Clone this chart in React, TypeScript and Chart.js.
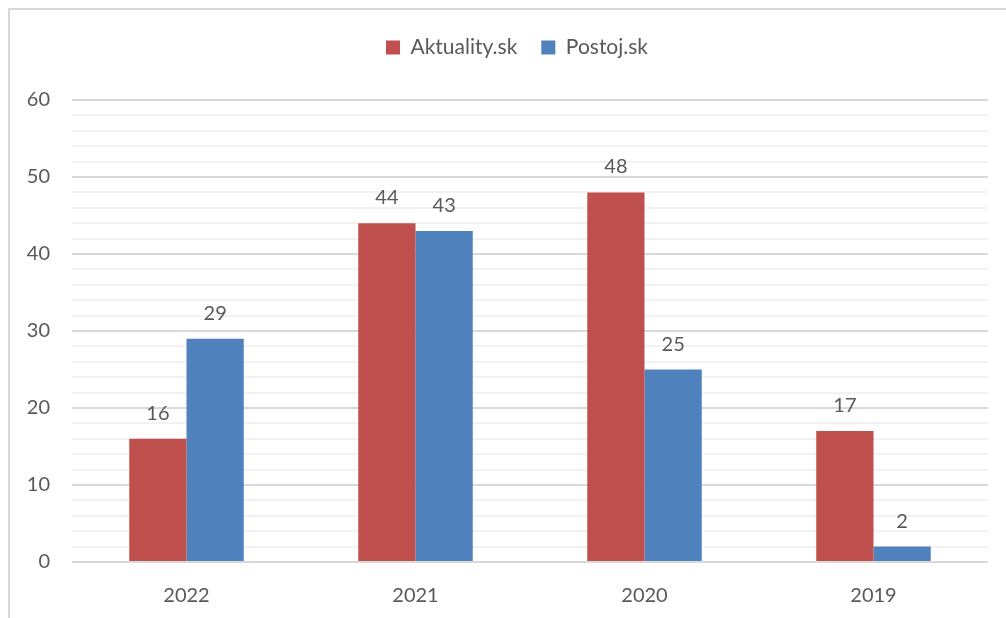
import React, { useEffect, useRef } from "react";
import { Chart, registerables } from "chart.js";

Chart.register(...registerables);

const categories = ["2022", "2021", "2020", "2019"];
const aktuality = [16, 44, 48, 17];
const postoj = [29, 43, 25, 2];
const seriesNames = ["Aktuality.sk", "Postoj.sk"];

const FONT = "Lato, 'Open Sans', sans-serif";
const TEXT = "#595959";
const FS = 20;

const legendHeight = {
  id: "legendHeight",
  beforeInit(chart: any) {
    const orig = chart.legend.fit;
    chart.legend.fit = function () {
      orig.call(this);
      this.height = 87;
    };
  },
  afterLayout(chart: any) {
    chart.legend.left += 18;
    chart.legend.right += 18;
  },
};

const valueLabels = {
  id: "valueLabels",
  afterDatasetsDraw(chart: any) {
    const ctx = chart.ctx;
    ctx.save();
    ctx.font = `${FS}px ${FONT}`;
    ctx.fillStyle = TEXT;
    ctx.textAlign = "center";
    ctx.textBaseline = "alphabetic";
    chart.data.datasets.forEach((ds: any, i: number) => {
      const meta = chart.getDatasetMeta(i);
      meta.data.forEach((bar: any, j: number) => {
        ctx.fillText(String(ds.data[j]), bar.x, bar.y - 19);
      });
    });
    ctx.restore();
  },
};

export default function App() {
  const ref = useRef<HTMLCanvasElement>(null);
  useEffect(() => {
    document.body.style.margin = "0";
    document.body.style.overflow = "hidden";
    const chart = new Chart(ref.current!, {
      type: "bar",
      data: {
        labels: categories,
        datasets: [
          { label: seriesNames[0], data: aktuality, backgroundColor: "#C0504D" },
          { label: seriesNames[1], data: postoj, backgroundColor: "#4F81BD" },
        ],
      },
      options: {
        responsive: false,
        animation: false,
        layout: { padding: { left: 0, right: 18, top: 3, bottom: 0 } },
        datasets: { bar: { categoryPercentage: 0.5, barPercentage: 1 } } as any,
        plugins: {
          legend: {
            position: "top",
            labels: {
              boxWidth: 14,
              boxHeight: 14,
              color: TEXT,
              font: { family: FONT, size: 21 },
              padding: 24,
            },
          },
          tooltip: { enabled: false },
        },
        scales: {
          x: {
            grid: { display: false, drawTicks: false },
            border: { display: false },
            ticks: { color: TEXT, font: { family: FONT, size: FS }, padding: 22 },
            afterFit(scale: any) {
              scale.height = 56;
            },
          },
          y: {
            min: 0,
            max: 60,
            border: { display: false },
            grid: {
              drawTicks: false,
              lineWidth: 2,
              color: (c: any) => (c.tick && c.tick.value % 10 === 0 ? "#d9d9d9" : "#f2f2f2"),
            },
            ticks: {
              stepSize: 2,
              color: TEXT,
              font: { family: FONT, size: FS },
              padding: 22,
              autoSkip: false,
              callback: (v: any) => (Number(v) % 10 === 0 ? String(v) : ""),
            },
            afterFit(scale: any) {
              scale.width = 62;
            },
          },
        },
      },
      plugins: [legendHeight, valueLabels],
    });
    return () => chart.destroy();
  }, []);
  return (
    <div
      style={{
        position: "absolute",
        left: 8,
        top: 8,
        width: 998,
        height: 610,
        borderTop: "2px solid #d9d9d9",
        borderLeft: "2px solid #d9d9d9",
        boxSizing: "border-box",
        background: "#fff",
      }}
    >
      <canvas ref={ref} width={996} height={608} style={{ display: "block" }} />
    </div>
  );
}
